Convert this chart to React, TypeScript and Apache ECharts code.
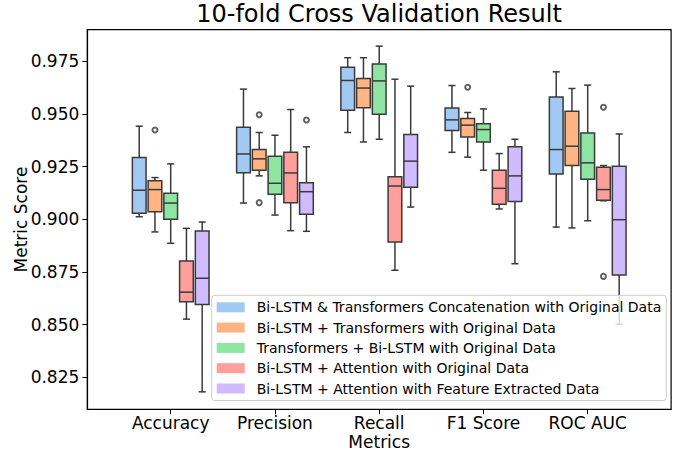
import React, { useEffect, useRef } from "react";
import * as echarts from "echarts";

const categories = ["Accuracy", "Precision", "Recall", "F1 Score", "ROC AUC"];
const seriesNames = [
  "Bi-LSTM & Transformers Concatenation with Original Data",
  "Bi-LSTM + Transformers with Original Data",
  "Transformers + Bi-LSTM with Original Data",
  "Bi-LSTM + Attention with Original Data",
  "Bi-LSTM + Attention with Feature Extracted Data",
];
const yTicks = [0.825, 0.85, 0.875, 0.9, 0.925, 0.95, 0.975];

// [min whisker, Q1, median, Q3, max whisker] per category
const concatStats = [
  [0.9012, 0.9029, 0.9138, 0.9293, 0.9442],
  [0.9077, 0.9221, 0.931, 0.9437, 0.9618],
  [0.9412, 0.9518, 0.9659, 0.9722, 0.9767],
  [0.9318, 0.9421, 0.9472, 0.9528, 0.9635],
  [0.8963, 0.9215, 0.9331, 0.9581, 0.97],
];
const bilstmTransStats = [
  [0.894, 0.9036, 0.9141, 0.9183, 0.9198],
  [0.9206, 0.9233, 0.9287, 0.9331, 0.9412],
  [0.9367, 0.9529, 0.9623, 0.9668, 0.9767],
  [0.9295, 0.9391, 0.9447, 0.9478, 0.9507],
  [0.8959, 0.9255, 0.9347, 0.9513, 0.9621],
];
const transBilstmStats = [
  [0.8886, 0.9, 0.9077, 0.9124, 0.9263],
  [0.902, 0.9119, 0.9171, 0.9299, 0.9399],
  [0.938, 0.9499, 0.9657, 0.9737, 0.9822],
  [0.9233, 0.9367, 0.9426, 0.9454, 0.9524],
  [0.8993, 0.919, 0.9268, 0.941, 0.9637],
];
const attnOrigStats = [
  [0.8526, 0.8608, 0.8654, 0.8802, 0.8957],
  [0.8946, 0.9079, 0.922, 0.9318, 0.9521],
  [0.8758, 0.8892, 0.9158, 0.9202, 0.9665],
  [0.9049, 0.9071, 0.9147, 0.9233, 0.9312],
  [0.9088, 0.909, 0.9141, 0.9247, 0.9255],
];
const attnFeatStats = [
  [0.8181, 0.8596, 0.872, 0.8944, 0.8987],
  [0.8943, 0.9024, 0.9131, 0.9174, 0.9344],
  [0.9058, 0.9152, 0.9276, 0.9402, 0.9632],
  [0.8789, 0.9085, 0.9206, 0.9344, 0.938],
  [0.8501, 0.8735, 0.8998, 0.9252, 0.9405],
];

// outliers: [category index, value]
const concatOutliers: number[][] = [];
const bilstmTransOutliers = [
  [0, 0.9424],
  [1, 0.9496],
  [1, 0.9079],
  [3, 0.9627],
];
const transBilstmOutliers: number[][] = [];
const attnOrigOutliers = [
  [4, 0.9532],
  [4, 0.8729],
];
const attnFeatOutliers = [[1, 0.9471]];

const allStats = [concatStats, bilstmTransStats, transBilstmStats, attnOrigStats, attnFeatStats];
const allOutliers = [concatOutliers, bilstmTransOutliers, transBilstmOutliers, attnOrigOutliers, attnFeatOutliers];
const colors = ["#a1c9f4", "#ffb482", "#8de5a1", "#ff9f9b", "#d0bbff"];

const EDGE = "#3a3a3a";
const LW = 1.5;
const BOX_STEP = 0.151;
const BOX_HALF = 0.0657;
const CAP_HALF = 0.034;
const FONT = "DejaVu Sans";

function makeRender(offset: number, fill: string) {
  return (params: any, api: any) => {
    const x = api.value(0) + offset;
    const pMin = api.coord([x, api.value(1)]);
    const pQ1 = api.coord([x, api.value(2)]);
    const pMed = api.coord([x, api.value(3)]);
    const pQ3 = api.coord([x, api.value(4)]);
    const pMax = api.coord([x, api.value(5)]);
    const unit = api.size([1, 0])[0];
    const bh = BOX_HALF * unit;
    const ch = CAP_HALF * unit;
    const cx = pMin[0];
    const ls = { stroke: EDGE, lineWidth: LW, fill: "none" };
    return {
      type: "group",
      children: [
        { type: "line", shape: { x1: cx, y1: pMin[1], x2: cx, y2: pQ1[1] }, style: ls },
        { type: "line", shape: { x1: cx, y1: pQ3[1], x2: cx, y2: pMax[1] }, style: ls },
        { type: "line", shape: { x1: cx - ch, y1: pMin[1], x2: cx + ch, y2: pMin[1] }, style: ls },
        { type: "line", shape: { x1: cx - ch, y1: pMax[1], x2: cx + ch, y2: pMax[1] }, style: ls },
        {
          type: "rect",
          shape: { x: cx - bh, y: pQ3[1], width: 2 * bh, height: pQ1[1] - pQ3[1] },
          style: { fill, stroke: EDGE, lineWidth: LW },
        },
        { type: "line", shape: { x1: cx - bh, y1: pMed[1], x2: cx + bh, y2: pMed[1] }, style: ls },
      ],
    };
  };
}

export default function App() {
  const ref = useRef<HTMLDivElement>(null);
  useEffect(() => {
    if (!ref.current) return;
    const chart = echarts.init(ref.current, undefined, { renderer: "svg" });
    const series: any[] = [];
    seriesNames.forEach((name, i) => {
      const offset = (i - 2) * BOX_STEP;
      series.push({
        type: "custom",
        name,
        itemStyle: { color: colors[i] },
        renderItem: makeRender(offset, colors[i]),
        encode: { x: 0, y: [1, 2, 3, 4, 5] },
        data: allStats[i].map((s, c) => [c, ...s]),
        z: 2,
      });
      if (allOutliers[i].length) {
        series.push({
          type: "scatter",
          symbol: "emptyCircle",
          symbolSize: 5,
          itemStyle: { color: EDGE, borderWidth: 1.2 },
          data: allOutliers[i].map((o) => [o[0] + offset, o[1]]),
          z: 3,
        });
      }
    });
    chart.setOption({
      animation: false,
      backgroundColor: "#ffffff",
      title: {
        text: "10-fold Cross Validation Result",
        left: 379,
        textAlign: "center",
        top: 2,
        padding: 0,
        textStyle: { fontFamily: FONT, fontSize: 24, fontWeight: "normal", color: "#000" },
      },
      legend: {
        data: seriesNames.map((n) => ({ name: n, icon: "rect" })),
        orient: "vertical",
        left: 211.7,
        top: 295.3,
        itemWidth: 28,
        itemHeight: 10,
        itemGap: 6.3,
        padding: [5, 5, 5, 5],
        backgroundColor: "rgba(255,255,255,0.8)",
        borderColor: "#cccccc",
        borderWidth: 1,
        borderRadius: 3,
        textStyle: {
          fontFamily: FONT,
          fontSize: 14,
          lineHeight: 14,
          color: "#000",
          padding: [0, 0, 0, 7],
        },
        z: 10,
      },
      grid: {
        left: 87.3,
        right: 14.9,
        top: 29.7,
        bottom: 43.7,
        show: true,
        borderColor: "#000",
        borderWidth: 1.2,
        backgroundColor: "transparent",
        containLabel: false,
        outerBoundsMode: "none",
      },
      xAxis: {
        type: "value",
        min: -0.8,
        max: 4.8,
        name: "Metrics",
        nameLocation: "middle",
        nameGap: 24,
        nameMoveOverlap: false,
        nameTextStyle: { fontFamily: FONT, fontSize: 17, color: "#000" },
        axisLine: { show: true, onZero: false, lineStyle: { color: "#000", width: 1.2 } },
        axisTick: { show: true, length: 5, customValues: [0, 1, 2, 3, 4], lineStyle: { color: "#000" } },
        axisLabel: {
          customValues: [0, 1, 2, 3, 4],
          formatter: (v: number) => categories[Math.round(v)] ?? "",
          fontFamily: FONT,
          fontSize: 17,
          color: "#000",
          margin: 5,
        },
        splitLine: { show: false },
      },
      yAxis: {
        type: "value",
        min: 0.8098,
        max: 0.99,
        name: "Metric Score",
        nameLocation: "middle",
        nameGap: 58,
        nameMoveOverlap: false,
        nameTextStyle: { fontFamily: FONT, fontSize: 17, color: "#000" },
        axisLine: { show: true, onZero: false, lineStyle: { color: "#000", width: 1.2 } },
        axisTick: { show: true, length: 5, customValues: yTicks, lineStyle: { color: "#000" } },
        axisLabel: {
          customValues: yTicks,
          formatter: (v: number) => v.toFixed(3),
          fontFamily: FONT,
          fontSize: 17,
          color: "#000",
          margin: 8,
        },
        splitLine: { show: false },
      },
      series,
    });
    return () => chart.dispose();
  }, []);
  return (
    <div
      ref={ref}
      style={{ position: "fixed", left: 0, top: 0, width: 686, height: 453, background: "#fff" }}
    />
  );
}
